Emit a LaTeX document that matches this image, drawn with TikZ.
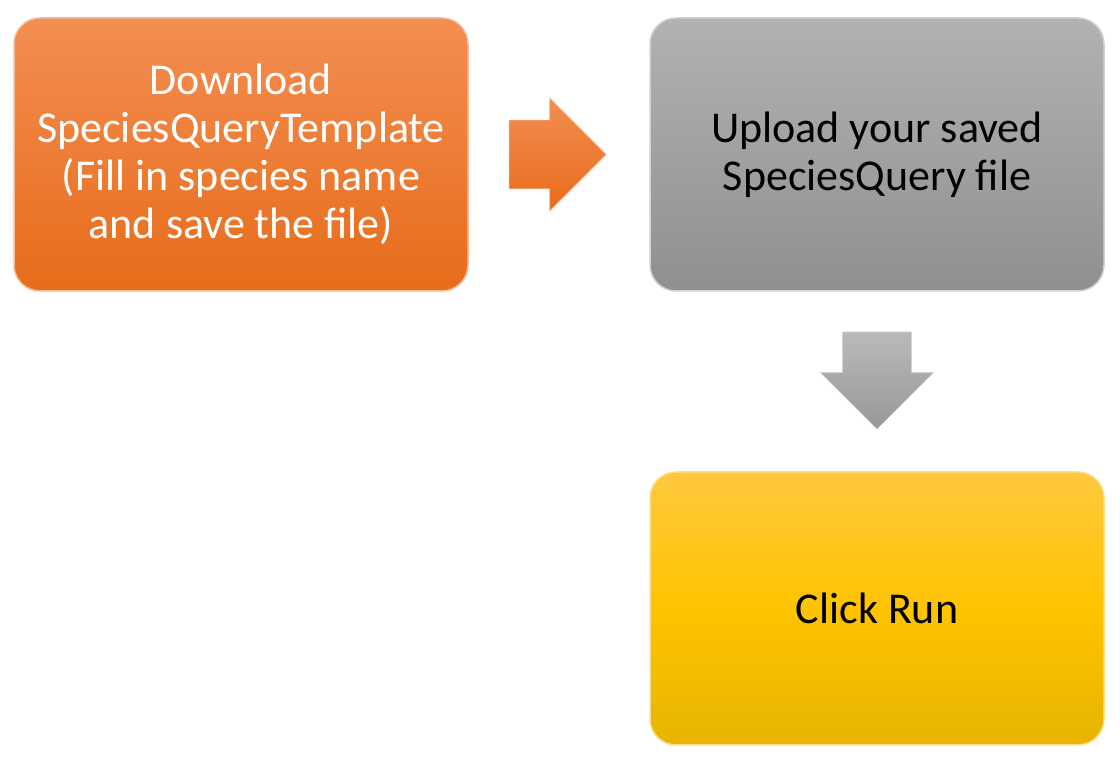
\documentclass[tikz,border=0pt]{standalone}
\usepackage{fontspec}
\setmainfont{Carlito}
\definecolor{sqorangetop}{RGB}{243,142,82}
\definecolor{sqorangebot}{RGB}{231,108,26}
\definecolor{sqgraytop}{RGB}{178,178,178}
\definecolor{sqgraybot}{RGB}{144,144,144}
\definecolor{sqgoldtop}{RGB}{255,200,62}
\definecolor{sqgoldmid}{RGB}{255,196,0}
\definecolor{sqgoldbot}{RGB}{230,180,0}
\usetikzlibrary{positioning,calc,shapes.arrows}

\tikzset{
  stepbox/.style={rounded corners=26pt,minimum width=454pt,minimum height=273pt,
    align=center,font=\fontsize{44}{48}\selectfont,line width=1.5pt},
  blockarrow/.style={single arrow,single arrow head extend=22pt,
    single arrow head indent=0pt,minimum height=97pt,line width=0.6pt,anchor=tail}
}

\begin{document}
\begin{tikzpicture}[x=1pt,y=1pt]
\useasboundingbox (0,0) rectangle (1120,767);
\node[stepbox,top color=sqorangetop,bottom color=sqorangebot,draw=sqorangetop!60!white,text=white] (dl) at (241,612.5) {Download\\ SpeciesQueryTemplate\\ (Fill in species name\\ and save the file)};
\node[stepbox,top color=sqgraytop,bottom color=sqgraybot,draw=sqgraytop!60!white] (up) at (877,612.5) {Upload your saved\\ SpeciesQuery file};
\node[stepbox,top color=sqgoldtop,bottom color=sqgoldbot,middle color=sqgoldmid,draw=sqgoldtop!60!white] (run) at (877,158.5) {Click Run};
% block arrows between the steps
\node[blockarrow,inner xsep=0pt,inner ysep=34pt,top color=sqorangetop,bottom color=sqorangebot,draw=sqorangetop!70!white] (a1) at ($(dl.east)+(40,0)$) {};
\node[blockarrow,shape border rotate=270,inner xsep=34pt,inner ysep=0pt,top color=sqgraytop!90!white,bottom color=sqgraytop!85!black,draw=sqgraytop!70!white] (a2) at ($(up.south)+(0,-40)$) {};
\end{tikzpicture}
\end{document}
